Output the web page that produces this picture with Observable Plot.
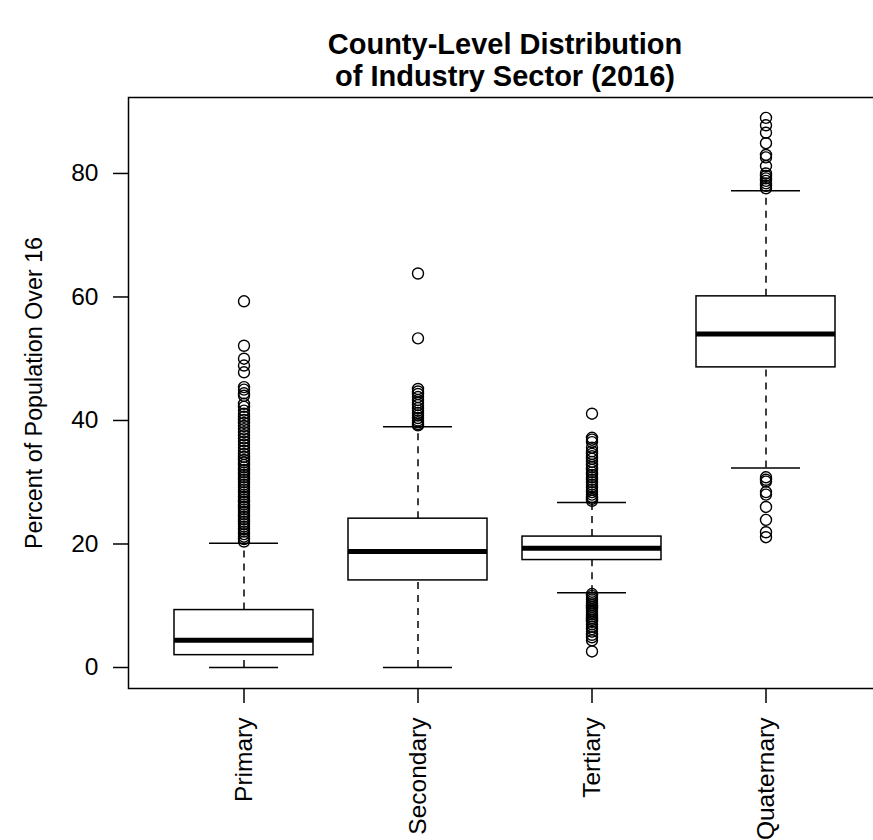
<!DOCTYPE html>
<html>
<head>
<meta charset="utf-8">
<script src="https://cdn.jsdelivr.net/npm/d3@7"></script>
<script src="https://cdn.jsdelivr.net/npm/@observablehq/plot@0.6"></script>
<style>
  html, body { margin: 0; padding: 0; background: #fff; overflow: hidden; width: 873px; height: 840px; }
  #title { position: relative; margin-left: 128px; width: 754px; height: 90px; box-sizing: border-box; padding-top: 28px;
    text-align: center; font-family: "Liberation Sans", Arial, sans-serif; font-weight: bold; font-size: 29px; line-height: 32px; color: #000; }
  #chart svg { display: block; }
</style>
</head>
<body>
<div id="title">County-Level Distribution<br>of Industry Sector (2016)</div>
<div id="chart"></div>
<script>
const categories = ["Primary", "Secondary", "Tertiary", "Quaternary"];
const lowerWhisker = [0, 0, 12.1, 32.3];
const q1 = [2.0, 14.1, 17.4, 48.6];
const median = [4.4, 18.8, 19.3, 54.0];
const q3 = [9.3, 24.1, 21.2, 60.1];
const upperWhisker = [20.1, 39.0, 26.7, 77.2];
const yTicks = [0, 20, 40, 60, 80];
const yLabel = "Percent of Population Over 16";

const primaryOutliers = [59.3, 52.1, 50.0, 48.9, 47.8, 45.4, 45.0, 44.4, 44.0, 42.7, 42.2, 41.6, 41.1, 40.6, 40.1,
  39.6, 39.1, 38.6, 38.1, 37.6, 37.1, 36.6, 36.1, 35.6, 35.1, 34.6, 34.1, 33.6, 33.2, 32.8, 32.4, 32.0, 31.6, 31.2,
  30.8, 30.4, 30.0, 29.6, 29.2, 28.8, 28.4, 28.0, 27.6, 27.2, 26.8, 26.4, 26.0, 25.6, 25.2, 24.8, 24.4, 24.0,
  23.6, 23.2, 22.8, 22.4, 22.0, 21.6, 21.2, 20.8, 20.4];
const secondaryOutliers = [63.8, 53.3, 45.1, 44.7, 44.3, 43.8, 43.3, 42.9, 42.5, 42.0, 41.6, 41.2, 40.8, 40.4,
  40.0, 39.7, 39.4, 39.2];
const tertiaryOutliers = [41.1, 37.2, 36.9, 36.5, 35.6, 35.0, 34.6, 34.2, 33.8, 33.3, 32.8, 32.4, 32.0, 31.6,
  31.2, 30.8, 30.4, 30.0, 29.6, 29.2, 28.8, 28.4, 28.0, 27.6, 27.3, 27.0,
  11.9, 11.6, 11.3, 11.0, 10.7, 10.4, 10.1, 9.8, 9.5, 9.2, 8.9, 8.6, 8.3, 8.0, 7.7, 7.4, 7.0, 6.6, 6.2, 5.8,
  5.3, 4.9, 4.4, 2.6];
const quaternaryOutliers = [89.0, 87.8, 86.6, 84.9, 83.0, 82.6, 81.2, 80.0, 79.6, 79.2, 78.8, 78.4, 78.0, 77.6,
  30.8, 30.4, 30.1, 28.4, 28.0, 26.0, 23.9, 21.9, 21.1];

const stats = categories.map((c, i) => ({
  cat: c, lo: lowerWhisker[i], q1: q1[i], med: median[i], q3: q3[i], hi: upperWhisker[i]
}));
const outlierLists = [primaryOutliers, secondaryOutliers, tertiaryOutliers, quaternaryOutliers];
const outliers = outlierLists.flatMap((arr, i) => arr.map(v => ({cat: categories[i], v})));

const chart = Plot.plot({
  width: 873,
  height: 750,
  marginLeft: 128,
  marginRight: -9,
  marginTop: 7,
  marginBottom: 152,
  style: { fontFamily: "'Liberation Sans', Arial, sans-serif", fontSize: "24px", color: "#000", background: "#fff", overflow: "visible" },
  x: { domain: categories, paddingInner: 0.2, paddingOuter: 0.26 },
  y: { domain: [-3.4, 92.3] },
  marks: [
    Plot.ruleX(stats, { x: "cat", y1: "q3", y2: "hi", stroke: "#000", strokeWidth: 1.5, strokeDasharray: "7,6" }),
    Plot.ruleX(stats, { x: "cat", y1: "lo", y2: "q1", stroke: "#000", strokeWidth: 1.5, strokeDasharray: "7,6" }),
    Plot.tickY(stats, { x: "cat", y: "hi", stroke: "#000", strokeWidth: 1.5, insetLeft: 35, insetRight: 35 }),
    Plot.tickY(stats, { x: "cat", y: "lo", stroke: "#000", strokeWidth: 1.5, insetLeft: 35, insetRight: 35 }),
    Plot.barY(stats, { x: "cat", y1: "q1", y2: "q3", fill: "#fff", stroke: "#000", strokeWidth: 1.5 }),
    Plot.tickY(stats, { x: "cat", y: "med", stroke: "#000", strokeWidth: 5 }),
    Plot.dot(outliers, { x: "cat", y: "v", r: 5.5, stroke: "#000", strokeWidth: 1.4, fill: "none" }),
    Plot.frame({ stroke: "#000", strokeWidth: 1.5 }),
    Plot.axisY({ ticks: yTicks, tickSize: 15, tickPadding: 15, label: null, fontSize: 24.5, strokeWidth: 1.5 }),
    Plot.axisX({ tickSize: 15, tickPadding: 14, tickRotate: -90, label: null, fontSize: 24.5, strokeWidth: 1.5 }),
    Plot.text([yLabel], { frameAnchor: "left", dx: -87, rotate: -90, lineAnchor: "bottom", textAnchor: "middle", fontSize: 23.3, fill: "#000" })
  ]
});
document.getElementById("chart").appendChild(chart);
</script>
</body>
</html>
